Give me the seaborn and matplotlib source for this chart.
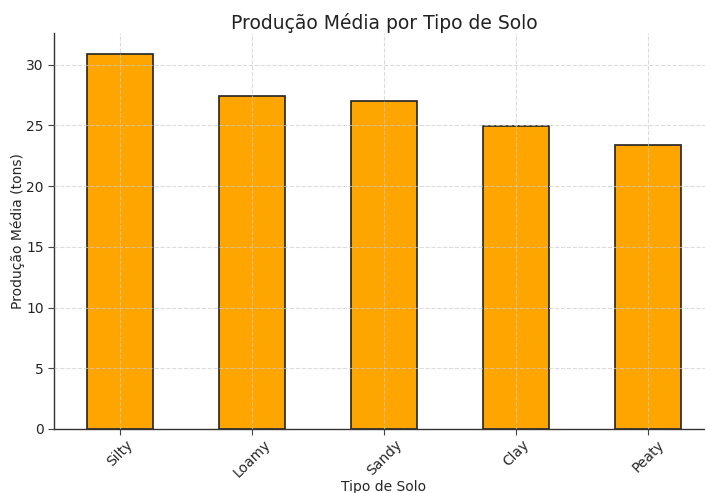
import pandas as pd
import matplotlib
matplotlib.use("Agg")
import matplotlib.pyplot as plt
import seaborn as sns

# Average yield per soil type
soil_types = ["Silty", "Loamy", "Sandy", "Clay", "Peaty"]
avg_yield = [30.9, 27.45, 27.03, 24.98, 23.42]

df = pd.DataFrame({"Tipo de Solo": soil_types, "Produção Média (tons)": avg_yield})

sns.set_style("white")
plt.rcParams['font.family'] = ['DejaVu Sans']

fig = plt.figure(figsize=(7.05, 4.93), dpi=100)
# axes run slightly past the right edge, as in the cropped original
ax = fig.add_axes([54 / 705, 64 / 493, 660 / 705, 396 / 493])

sns.barplot(data=df, x="Tipo de Solo", y="Produção Média (tons)", color="orange",
            saturation=1, width=0.5, edgecolor="#222222", linewidth=1.2, ax=ax)

ax.set_xlim(-0.5, 4.5)
ax.set_ylim(0, max(avg_yield) * 1.055)
ax.set_title("Produção Média por Tipo de Solo", fontsize=13.5, color="#222222", pad=3)
ax.set_xlabel("Tipo de Solo", fontsize=10, labelpad=0)
ax.set_ylabel("Produção Média (tons)", fontsize=10, labelpad=1)
ax.tick_params(axis="both", labelsize=10, length=4, color="#444444", left=True, bottom=True)
ax.tick_params(axis="x", pad=2)
plt.setp(ax.get_xticklabels(), rotation=45)
ax.grid(True, linestyle="--", color="#cccccc", linewidth=0.8)
ax.set_axisbelow(False)
for p in ax.patches:
    p.set_zorder(1)
for gl in ax.get_xgridlines() + ax.get_ygridlines():
    gl.set_zorder(2)
    gl.set_alpha(0.7)
sns.despine(ax=ax, top=True, right=True)
for s in ["left", "bottom"]:
    ax.spines[s].set_color("#333333")
    ax.spines[s].set_linewidth(1.0)

fig.savefig("out.png", dpi=100)
